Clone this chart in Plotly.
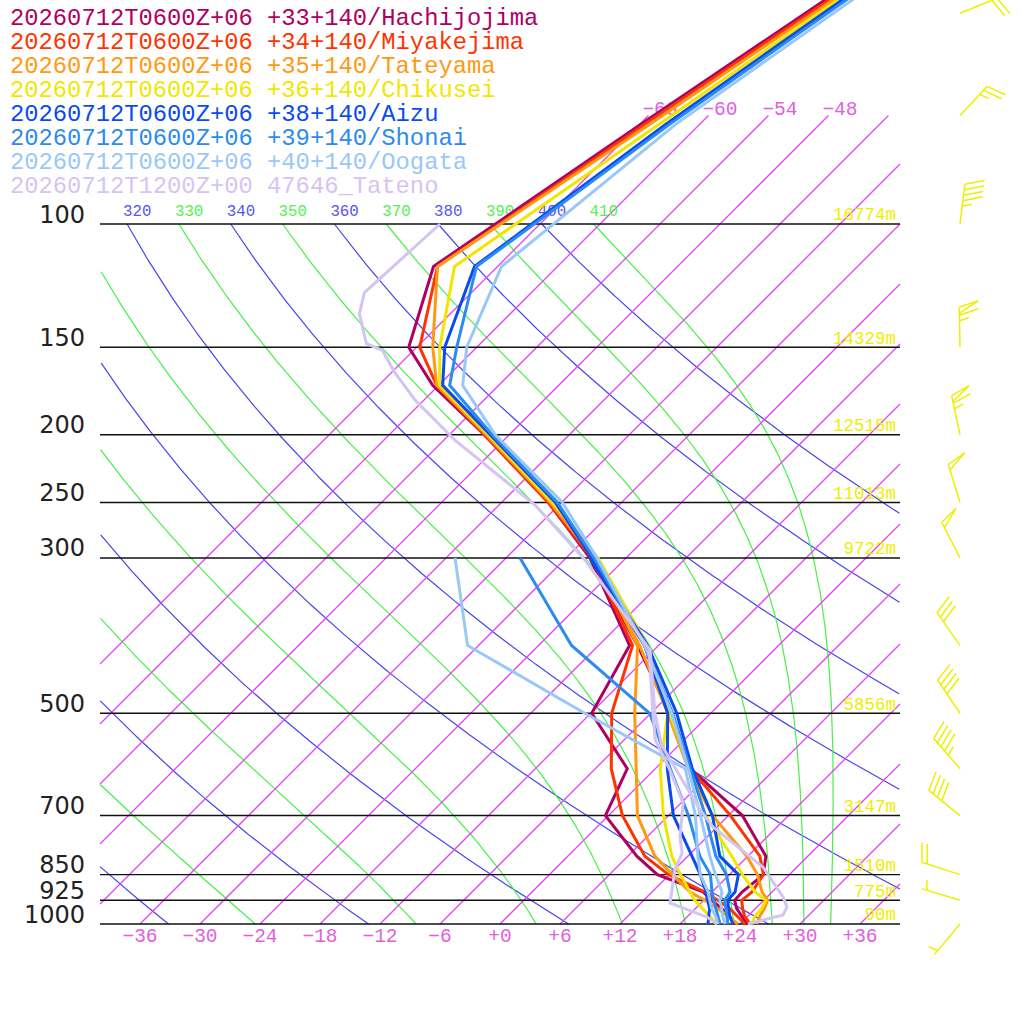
import numpy as np
import plotly.graph_objects as go

# ---------------- data ----------------
LEVELS = [1000, 975, 950, 925, 900, 850, 800, 700, 600, 500, 400, 300, 250, 200, 170, 150, 115, 72, 45]
TD_LEVELS = [1000, 975, 950, 925, 900, 850, 800, 700, 600, 500, 400, 300]

NAMES = [
    "20260712T0600Z+06 +33+140/Hachijojima",
    "20260712T0600Z+06 +34+140/Miyakejima",
    "20260712T0600Z+06 +35+140/Tateyama",
    "20260712T0600Z+06 +36+140/Chikusei",
    "20260712T0600Z+06 +38+140/Aizu",
    "20260712T0600Z+06 +39+140/Shonai",
    "20260712T0600Z+06 +40+140/Oogata",
    "20260712T1200Z+00 47646_Tateno",
]
COLORS = ["#b0005f", "#ff3300", "#ff9911", "#f2e600", "#0a4bf0", "#2b8bf0", "#99c8f8", "#d4c4f4"]

T_HACHIJOJIMA = [24.7, 23.4, 22.1, 21.1, 21.0, 21.4, 19.8, 13.4, 3.5, -4.1, -14.1, -27.6, -37.3, -50.5, -60.6, -66.8, -72.4, -65.9, -59.0]
TD_HACHIJOJIMA = [23.5, 22.2, 20.6, 18.8, 17.1, 10.8, 6.9, -0.3, -2.8, -11.9, -14.9, -27.6]
T_MIYAKEJIMA = [25.0, 23.7, 22.7, 21.8, 22.0, 21.4, 19.2, 12.2, 3.5, -4.1, -13.4, -27.4, -37.3, -50.5, -60.2, -65.7, -72.0, -65.5, -58.6]
TD_MIYAKEJIMA = [24.5, 23.0, 21.4, 19.4, 17.3, 11.9, 7.7, 1.4, -4.4, -9.9, -14.6, -27.4]
T_TATEYAMA = [25.7, 25.2, 24.9, 24.4, 23.0, 20.8, 17.9, 10.4, 3.3, -4.3, -13.9, -27.2, -37.1, -50.3, -60.2, -64.4, -72.0, -65.0, -58.2]
TD_TATEYAMA = [23.8, 22.0, 20.2, 18.1, 15.8, 12.3, 8.7, 2.9, -1.9, -7.6, -14.1, -27.2]
T_CHIKUSEI = [25.2, 24.7, 24.6, 24.2, 22.3, 19.3, 16.4, 9.7, 3.5, -4.1, -13.1, -26.8, -36.9, -50.1, -59.9, -63.7, -70.3, -64.0, -57.8]
TD_CHIKUSEI = [21.7, 20.2, 18.7, 17.1, 15.8, 13.1, 10.4, 5.5, 0.5, -4.3, -13.2, -26.8]
T_AIZU = [23.3, 22.2, 21.3, 20.4, 20.3, 18.9, 15.2, 10.4, 3.7, -3.4, -13.1, -27.4, -36.6, -49.9, -59.6, -63.2, -68.3, -63.4, -57.4]
TD_AIZU = [20.8, 20.1, 19.4, 18.4, 17.4, 15.1, 12.4, 6.5, 1.2, -4.3, -13.4, -27.6]
T_SHONAI = [22.8, 21.9, 21.0, 20.1, 19.8, 17.7, 14.8, 9.7, 3.5, -3.8, -13.4, -27.2, -36.4, -49.7, -58.9, -62.0, -68.1, -63.0, -57.0]
TD_SHONAI = [22.0, 21.0, 20.0, 19.0, 18.0, 16.1, 13.2, 8.0, 1.5, -6.1, -20.7, -34.6]
T_OOGATA = [22.5, 21.5, 20.6, 19.6, 19.0, 16.6, 14.2, 9.2, 3.3, -3.9, -13.4, -26.9, -35.9, -49.4, -57.6, -61.0, -65.6, -62.4, -56.4]
TD_OOGATA = [21.8, 20.8, 19.6, 18.6, 17.6, 15.1, 13.0, 8.7, 3.0, -12.6, -31.1, -41.1]

TATENO_P = [1000, 970.8, 945.6, 915.1, 829.1, 726.8, 687.2, 555.5, 499.6, 406.0, 302.0, 252.0, 203.6, 178.4, 162.9, 151.6, 148.2, 134.3, 125.3, 100]
TATENO_T = [24.8, 27.4, 27.0, 25.6, 20.6, 11.6, 8.6, -1.7, -5.6, -12.4, -27.9, -38.4, -52.9, -60.9, -65.7, -69.1, -71.4, -75.1, -76.7, -76.0]
TATENO_TD_P = [1000, 977.2, 933.3, 837.7, 791.4, 751.2, 671.3, 602.7, 545.5, 499.6, 406.0]
TATENO_TD = [21.7, 20.0, 14.9, 12.1, 11.1, 9.3, 6.2, 1.6, -2.9, -5.8, -12.5]

WIND_P = [50, 70, 100, 150, 200, 250, 300, 400, 500, 600, 700, 850, 925, 1000]
WIND_DIR = [68, 43, 7, 359, 348, 343, 333, 325, 326, 319, 309, 288, 287, 220]
WIND_KT = [20, 25, 45, 65, 65, 50, 50, 30, 40, 45, 40, 20, 5, 5]

HEIGHT_P = [100, 150, 200, 250, 300, 500, 700, 850, 925, 1000]
HEIGHT_LBL = ["16774m", "14329m", "12515m", "11013m", "9722m", "5856m", "3147m", "1510m", "775m", "90m"]

ISOTHERMS = list(range(-66, 37, 6))
DRY_THETA = list(range(240, 401, 20))
MOIST_THETA = list(range(250, 411, 20))
XTICKS = list(range(-36, 37, 6))
ISO_LABELS = [-66, -60, -54, -48]

MONO = "Liberation Mono"

# ---------------- diagram geometry ----------------
SKEW = 70.0          # degC shift per decade of pressure
XMIN, XMAX = -40.0, 40.0
PX_X = 10.0          # px per degC
PX_DEC = 700.0       # px per decade


def skx(t, p):
    return np.asarray(t, float) + SKEW * np.log10(1000.0 / np.asarray(p, float))


def pshift(p, dy_up_px):
    return float(p * 10 ** (-dy_up_px / PX_DEC))


RD, CPD, LV, EPS = 287.04, 1005.7, 2.501e6, 0.622
KAPPA = RD / CPD


def rsat(p, tk):
    es = 6.112 * np.exp(17.67 * (tk - 273.15) / (tk - 29.65))
    return EPS * es / (p - es)


def dtdp(p, tk):
    rs = rsat(p, tk)
    return (RD * tk + LV * rs) / (p * (CPD + LV * LV * rs * EPS / (RD * tk * tk)))


def moist_curve(theta, ps):
    tk = theta * (ps[0] / 1000.0) ** KAPPA
    out = [tk]
    for i in range(1, len(ps)):
        h = ps[i] - ps[i - 1]
        p = ps[i - 1]
        k1 = dtdp(p, tk)
        k2 = dtdp(p + h / 2, tk + h / 2 * k1)
        k3 = dtdp(p + h / 2, tk + h / 2 * k2)
        k4 = dtdp(p + h, tk + h * k3)
        tk = tk + h / 6 * (k1 + 2 * k2 + 2 * k3 + k4)
        out.append(tk)
    return np.array(out)


def clipped(xs, ps):
    X, P = [], []
    inside_prev = False
    for x, p in zip(xs, ps):
        ins = XMIN <= x <= XMAX
        if ins:
            X.append(float(x)); P.append(float(p))
        elif inside_prev:
            X.append(None); P.append(None)
        inside_prev = ins
    X.append(None); P.append(None)
    return X, P


fig = go.Figure()

pdense = np.linspace(100, 1000, 901)

# dry adiabats
dx, dp = [], []
for th in DRY_THETA:
    tc = th * (pdense / 1000.0) ** KAPPA - 273.15
    a, b = clipped(skx(tc, pdense), pdense)
    dx += a; dp += b
fig.add_trace(go.Scatter(x=dx, y=dp, mode="lines", line=dict(color="rgb(70,70,235)", width=1.2), hoverinfo="skip"))

# moist adiabats
mx, mp = [], []
for th in MOIST_THETA:
    tc = moist_curve(th, pdense) - 273.15
    a, b = clipped(skx(tc, pdense), pdense)
    mx += a; mp += b
fig.add_trace(go.Scatter(x=mx, y=mp, mode="lines", line=dict(color="rgb(70,240,70)", width=1.2), hoverinfo="skip"))

# isotherms
ix, ip = [], []
top_p = 70.0
for t in ISOTHERMS:
    xlo, xhi = float(t), float(t + SKEW * np.log10(1000.0 / top_p))
    a, b = max(xlo, XMIN), min(xhi, XMAX)
    if a >= b:
        continue
    ix += [a, b, None]
    ip += [1000 * 10 ** (-(a - t) / SKEW), 1000 * 10 ** (-(b - t) / SKEW), None]
fig.add_trace(go.Scatter(x=ix, y=ip, mode="lines", line=dict(color="rgb(225,70,240)", width=1.3), hoverinfo="skip"))

# adiabat labels at 100 hPa
for thetas, col in ((DRY_THETA, "rgb(85,85,245)"), (MOIST_THETA, "rgb(85,240,85)")):
    lx, lp, lt = [], [], []
    for th in thetas:
        x100 = float(skx(th * 0.1 ** KAPPA - 273.15, 100))
        if XMIN <= x100 <= XMAX - 3:
            lx.append(x100 - 0.4); lp.append(pshift(100, 11.5)); lt.append(str(th))
    fig.add_trace(go.Scatter(x=lx, y=lp, text=lt, mode="text", textposition="middle right",
                             textfont=dict(family=MONO, size=15.8, color=col), hoverinfo="skip"))

# isobars
hx, hp = [], []
for p in HEIGHT_P:
    hx += [XMIN, XMAX, None]; hp += [p, p, None]
fig.add_trace(go.Scatter(x=hx, y=hp, mode="lines", line=dict(color="#111111", width=1.4), hoverinfo="skip"))

# pressure labels
fig.add_trace(go.Scatter(x=[-41.5] * len(HEIGHT_P), y=[pshift(p, 7.5) for p in HEIGHT_P],
                         text=[str(p) for p in HEIGHT_P], mode="text", textposition="middle left",
                         textfont=dict(family="DejaVu Sans", size=24, color="#222222"), hoverinfo="skip"))

# height labels
fig.add_trace(go.Scatter(x=[39.6] * len(HEIGHT_P), y=[pshift(p, 8) for p in HEIGHT_P],
                         text=HEIGHT_LBL, mode="text", textposition="middle left",
                         textfont=dict(family=MONO, size=17.5, color="#eeee00"), hoverinfo="skip"))

# temperature tick labels
fig.add_trace(go.Scatter(x=XTICKS, y=[pshift(1000, -13)] * len(XTICKS),
                         text=[("+%d" % t) if t >= 0 else ("\u2212%d" % -t) for t in XTICKS],
                         mode="text", textposition="middle center",
                         textfont=dict(family=MONO, size=19.5, color="#e060e0"), hoverinfo="skip"))

# isotherm labels
fig.add_trace(go.Scatter(x=[t + SKEW * np.log10(1000.0 / top_p) - 0.6 for t in ISO_LABELS],
                         y=[pshift(top_p, 5.5)] * len(ISO_LABELS),
                         text=["\u2212%d" % -t for t in ISO_LABELS], mode="text", textposition="middle right",
                         textfont=dict(family=MONO, size=19.5, color="#e060e0"), hoverinfo="skip"))

# soundings
series = [
    (T_HACHIJOJIMA, TD_HACHIJOJIMA),
    (T_MIYAKEJIMA, TD_MIYAKEJIMA),
    (T_TATEYAMA, TD_TATEYAMA),
    (T_CHIKUSEI, TD_CHIKUSEI),
    (T_AIZU, TD_AIZU),
    (T_SHONAI, TD_SHONAI),
    (T_OOGATA, TD_OOGATA),
]
for (tt, td), col in zip(series, COLORS[:7]):
    fig.add_trace(go.Scatter(x=skx(tt, LEVELS), y=LEVELS, mode="lines",
                             line=dict(color=col, width=3), hoverinfo="skip"))
    fig.add_trace(go.Scatter(x=skx(td, TD_LEVELS), y=TD_LEVELS, mode="lines",
                             line=dict(color=col, width=3), hoverinfo="skip"))
fig.add_trace(go.Scatter(x=skx(TATENO_T, TATENO_P), y=TATENO_P, mode="lines",
                         line=dict(color=COLORS[7], width=3), hoverinfo="skip"))
fig.add_trace(go.Scatter(x=skx(TATENO_TD, TATENO_TD_P), y=TATENO_TD_P, mode="lines",
                         line=dict(color=COLORS[7], width=3), hoverinfo="skip"))

# wind barbs
BARB_X = 46.0
STAFF, FULL, HALF, STEP = 40.0, 20.0, 10.0, 5.5
bx, bp = [], []


def addseg(p0, pts):
    for ex, ny in pts:
        bx.append(BARB_X + float(ex) / PX_X)
        bp.append(pshift(p0, float(ny)))
    bx.append(None); bp.append(None)


for p0, d, s in zip(WIND_P, WIND_DIR, WIND_KT):
    r = np.radians(d)
    u = np.array([np.sin(r), np.cos(r)])
    a = np.arctan2(u[1], u[0]) - np.radians(72)
    v = np.array([np.cos(a), np.sin(a)])
    addseg(p0, [(0, 0), tuple(STAFF * u)])
    n50, rem = divmod(int(s), 50)
    n10, rem = divmod(rem, 10)
    n5 = rem // 5
    pos = STAFF
    for _ in range(n50):
        p1 = pos * u
        addseg(p0, [tuple(p1), tuple(p1 + FULL * v), tuple((pos - 6) * u)])
        pos -= 8
    for _ in range(n10):
        p1 = pos * u
        addseg(p0, [tuple(p1), tuple(p1 + FULL * v)])
        pos -= STEP
    if n5:
        if n50 == 0 and n10 == 0:
            pos -= STEP
        p1 = pos * u
        addseg(p0, [tuple(p1), tuple(p1 + HALF * v)])
fig.add_trace(go.Scatter(x=bx, y=bp, mode="lines", line=dict(color="#eeee00", width=1.5), hoverinfo="skip"))

# legend lines (text)
for i, (name, col) in enumerate(zip(NAMES, COLORS)):
    fig.add_annotation(x=8 / 1024, y=1 - (18 + 24 * i) / 1024, xref="paper", yref="paper",
                       text=name, showarrow=False, xanchor="left", yanchor="middle",
                       font=dict(family=MONO, size=23.8, color=col))

fig.update_layout(
    width=1024, height=1024, margin=dict(l=0, r=0, t=0, b=0),
    paper_bgcolor="white", plot_bgcolor="white", showlegend=False,
    xaxis=dict(range=[-50, 52.4], visible=False, fixedrange=True),
    yaxis=dict(type="log", range=[3 + 100 / 700, 3 - 924 / 700], visible=False, fixedrange=True),
)

fig.write_html("out.html", config={"displayModeBar": False},
               post_script="document.body.style.margin='0';document.body.style.overflow='hidden';")
